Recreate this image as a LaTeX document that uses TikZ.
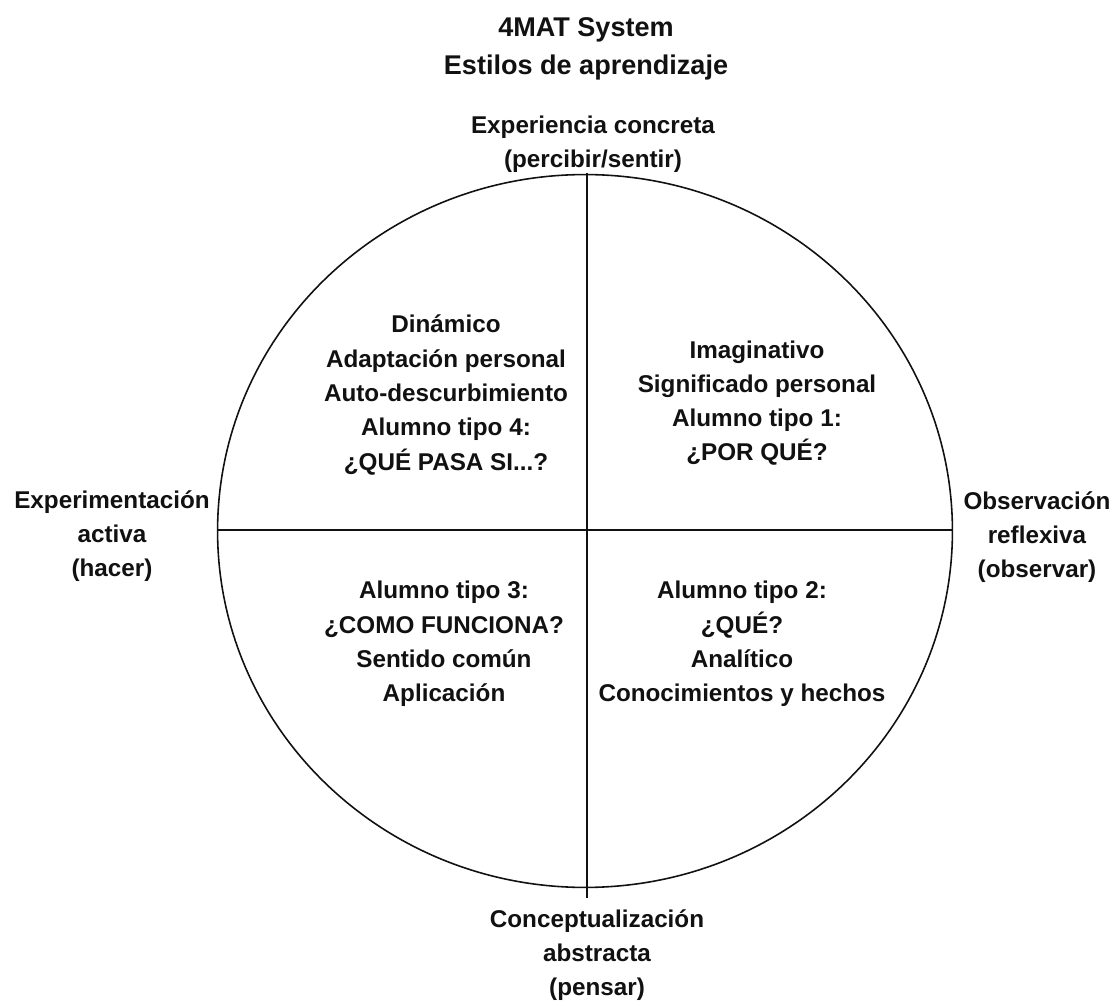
\documentclass[tikz,border=0pt]{standalone}
\usepackage{fontspec}
\setmainfont{Liberation Sans}
\usepackage{tikz}
\usetikzlibrary{calc}
\definecolor{ink}{HTML}{111111}
\tikzset{
  axis/.style={draw=ink, line width=1.1pt},
  rim/.style={draw=ink, line width=0.9pt},
  lab/.style={text=ink, font=\bfseries\fontsize{13.8}{19.5}\selectfont, align=center, inner sep=0pt},
  ttl/.style={text=ink, font=\bfseries\fontsize{15.4}{21.5}\selectfont, align=center, inner sep=0pt},
}

\begin{document}
\begin{tikzpicture}[x=0.02cm, y=-0.02cm]
  \path[use as bounding box, fill=white] (0,0) rectangle (1119,1006);
  \coordinate (O) at (585,531);
  \coordinate (N) at (587,173);
  \coordinate (S) at (587,898);
  \coordinate (W) at (217,530);
  \coordinate (E) at (952,530);
  % circle and the two axes
  \draw[rim] (O) ellipse [x radius=7.35cm, y radius=7.13cm];
  \draw[axis] (N) -- (S);
  \draw[axis] (W) -- (E);
  % title and axis ends
  \node[ttl] (title) at (586,49) {4MAT System\\Estilos de aprendizaje};
  \node[lab] (top) at (593,144) {Experiencia concreta\\(percibir/sentir)};
  \node[lab] (bot) at (597,955) {Conceptualización\\abstracta\\(pensar)};
  \node[lab] (lft) at (112,536) {Experimentación\\activa\\(hacer)};
  \node[lab] (rgt) at (1037,537) {Observación\\reflexiva\\(observar)};
  % the four quadrants
  \node[lab] (q4) at (446,395) {Dinámico\\Adaptación personal\\Auto-descurbimiento\\Alumno tipo 4:\\¿QUÉ PASA SI...?};
  \node[lab] (q1) at (757,403) {Imaginativo\\Significado personal\\Alumno tipo 1:\\¿POR QUÉ?};
  \node[lab] (q3) at (444,644) {Alumno tipo 3:\\¿COMO FUNCIONA?\\Sentido común\\Aplicación};
  \node[lab] (q2) at (742,644) {Alumno tipo 2:\\¿QUÉ?\\Analítico\\Conocimientos y hechos};
\end{tikzpicture}
\end{document}
